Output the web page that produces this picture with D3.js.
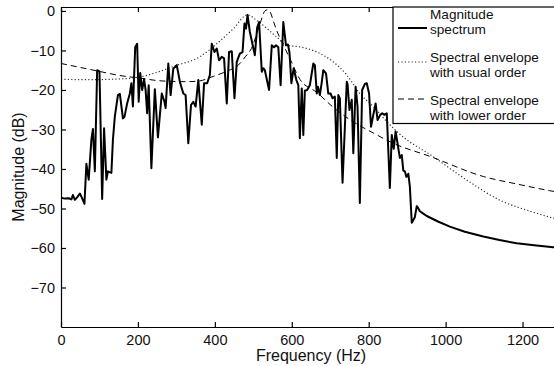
<!DOCTYPE html>
<html>
<head>
<meta charset="utf-8">
<script src="https://cdn.jsdelivr.net/npm/d3@7"></script>
<style>
    body { margin: 0; background: #fff; }
    svg { display: block; font-family: 'Liberation Sans', Arial, Helvetica, sans-serif; }
</style>
</head>
<body>
<svg id="chart"></svg>
<script>
// magnitude spectrum (Hz, dB)
const spectrumFreq = [0, 10, 20, 27, 31, 36, 42, 49, 54, 61, 66, 72, 79, 83, 88, 94, 100, 107, 112, 118,
    122, 131, 135, 140, 148, 153, 161, 165, 172, 179, 183, 187, 193, 198, 202, 206, 211, 216, 220, 224,
    228, 235, 244, 252, 262, 269, 272, 279, 285, 292, 301, 309, 318, 324, 331, 338, 344, 350, 357, 366,
    372, 380, 387, 392, 399, 405, 411, 418, 424, 431, 437, 444, 451, 457, 465, 472, 477, 481, 485, 491,
    504, 510, 515, 522, 526, 530, 541, 548, 554, 559, 565, 571, 578, 585, 590, 594, 599, 605, 612, 617,
    621, 626, 630, 634, 640, 647, 656, 660, 665, 668, 673, 678, 682, 689, 695, 701, 706, 712, 717, 721,
    725, 732, 743, 745, 750, 756, 760, 766, 771, 777, 783, 790, 795, 801, 806, 812, 818, 823, 830, 835,
    841, 847, 851, 855, 860, 865, 870, 875, 881, 886, 890, 894, 898, 903, 907, 912, 920, 925, 927, 933,
    942, 951, 980, 1011, 1050, 1098, 1140, 1185, 1230, 1280, 1300];
const spectrumDb = [-47.3, -47.5, -47.4, -47.7, -46.6, -47.8, -47.2, -46.2, -47.2, -48.8, -38.7, -42.7, -32.6, -29.9, -40.6, -15, -15.3, -47.6, -29.7, -42.7,
    -40.6, -41, -32.6, -26.7, -21.3, -21, -27.2, -26.8, -23.4, -20.9, -18.3, -24.2, -9.1, -8.3, -23, -15.7, -20, -17.3, -20, -25.9,
    -18.8, -39.8, -19.8, -32, -20.9, -23, -24.6, -13.3, -21.3, -14.6, -13.7, -17.9, -20.9, -21.3, -33.5, -23.8, -23, -24.2, -17.5, -28.8,
    -18.3, -18.3, -16.2, -8.3, -10.4, -9.5, -12.5, -11.6, -12, -23.4, -10.4, -10.2, -22.1, -12.9, -10.8, -10.4, -3.2, -4.5, -1, -5.3,
    -11.2, -4.2, -2.8, -15.4, -14.5, -15, -20, -8.7, -9.2, -8.7, -9.2, -18.8, -2.8, -8.7, -8.5, -10.5, -18.3, -14.5, -17.5, -18.8,
    -32.2, -19.6, -31.4, -20.2, -20, -18.8, -13.3, -13.7, -20.9, -19.2, -21.3, -18, -15, -15.8, -20.9, -20.9, -22.1, -21.7, -37.2, -21.3,
    -22.1, -43.5, -17.9, -18.5, -25.1, -22.5, -36, -19.2, -24.2, -48.6, -20, -18.5, -18.3, -20.9, -29.3, -26.3, -23.4, -27.6, -26.3, -25.9,
    -26.3, -25.9, -35.3, -44.8, -31.4, -34.9, -30.5, -33.5, -37.2, -36.5, -40.4, -40.6, -42, -41.2, -44.4, -53.6, -52.2, -49.4, -49.6, -50.7,
    -51.3, -51.9, -53.3, -54.6, -55.9, -57.1, -58, -58.8, -59.3, -59.8, -60];

// spectral envelope, usual order
const usualFreq = [0, 65, 130, 200, 250, 300, 361, 405, 448, 485, 509, 561, 587, 621, 665, 708, 743, 777, 812, 847, 881, 968, 1055, 1141, 1220, 1300];
const usualDb = [-17.3, -17.4, -17.3, -16.8, -15.5, -13.8, -11.6, -8.3, -4.5, -1, -2.4, -6.6, -8.7, -9.1, -10.4, -12.9, -16.2, -20.9, -24.2, -28, -31.2, -36.9, -42.8, -47.9, -50.7, -53];

// spectral envelope, lower order
const lowerFreq = [0, 50, 100, 150, 205, 260, 331, 361, 392, 430, 461, 480, 495, 510, 520, 530, 537, 545, 552, 561, 574, 595, 621, 665, 708, 751, 812, 864, 959, 1098, 1185, 1271, 1300];
const lowerDb = [-13.3, -14.3, -15.3, -16.3, -17, -17.7, -17.9, -17.7, -16.7, -15.3, -13.7, -11.5, -9.5, -5.5, -2.5, 0, 0.3, -0.5, -2.5, -5, -7.8, -12, -17.3, -20.6, -24.4, -27.5, -30.9, -33.5, -36.8, -41.9, -43.8, -45.5, -46];

const xTicks = [0, 200, 400, 600, 800, 1000, 1200];
const yTicks = [0, -10, -20, -30, -40, -50, -60, -70];

const legendLabels = [
    ['Magnitude', 'spectrum'],
    ['Spectral envelope', 'with usual order'],
    ['Spectral envelope', 'with lower order']
];

const width = 554;
const height = 366;
const plot = { left: 61, right: 561, top: 7, bottom: 327 };

const svg = d3.select('#chart')
    .attr('width', width)
    .attr('height', height);

const x = d3.scaleLinear().domain([0, 1300]).range([plot.left, plot.right]);
const y = d3.scaleLinear().domain([-80, 1]).range([plot.bottom, plot.top]);

svg.append('defs')
    .append('clipPath')
        .attr('id', 'plot-clip')
    .append('rect')
        .attr('x', plot.left)
        .attr('y', plot.top)
        .attr('width', plot.right - plot.left)
        .attr('height', plot.bottom - plot.top);

const toPoints = (fs, vs) => fs.map((f, i) => [f, vs[i]]);

const lines = svg.append('g').attr('clip-path', 'url(#plot-clip)');

const smooth = d3.line().x(d => x(d[0])).y(d => y(d[1])).curve(d3.curveMonotoneX);
const jagged = d3.line().x(d => x(d[0])).y(d => y(d[1]));

const dotted = '1.2,2.2';
const dashed = '6,4';

lines.append('path')
    .attr('d', smooth(toPoints(usualFreq, usualDb)))
    .attr('fill', 'none')
    .attr('stroke', '#333')
    .attr('stroke-width', 1.2)
    .attr('stroke-dasharray', dotted);

lines.append('path')
    .attr('d', smooth(toPoints(lowerFreq, lowerDb)))
    .attr('fill', 'none')
    .attr('stroke', '#000')
    .attr('stroke-width', 1)
    .attr('stroke-dasharray', dashed);

lines.append('path')
    .attr('d', jagged(toPoints(spectrumFreq, spectrumDb)))
    .attr('fill', 'none')
    .attr('stroke', '#000')
    .attr('stroke-width', 2)
    .attr('stroke-linejoin', 'round');

// axes, MATLAB style: ticks inside, box on
const fmt = d3.format('d');

const xAxis = d3.axisBottom(x).tickValues(xTicks).tickSizeInner(-5).tickSizeOuter(0).tickPadding(7.5).tickFormat(fmt);
const xAxisTop = d3.axisTop(x).tickValues(xTicks).tickSizeInner(-5).tickSizeOuter(0).tickFormat('');
const yAxis = d3.axisLeft(y).tickValues(yTicks).tickSizeInner(-5).tickSizeOuter(0).tickPadding(6).tickFormat(fmt);

svg.append('g')
    .attr('class', 'x axis')
    .attr('transform', `translate(0, ${plot.bottom})`)
    .call(xAxis);

svg.append('g')
    .attr('class', 'x axis top')
    .attr('transform', `translate(0, ${plot.top})`)
    .call(xAxisTop);

svg.append('g')
    .attr('class', 'y axis')
    .attr('transform', `translate(${plot.left}, 0)`)
    .call(yAxis);

svg.selectAll('.axis path, .axis line')
    .attr('stroke', '#000')
    .attr('stroke-width', 1.2);

svg.selectAll('.axis text')
    .attr('fill', '#111')
    .style('font-size', '14.5px')
    .style('font-family', 'Liberation Sans, Arial, Helvetica, sans-serif');

svg.append('text')
    .attr('x', (plot.left + plot.right) / 2)
    .attr('y', 360.5)
    .attr('text-anchor', 'middle')
    .attr('fill', '#111')
    .style('font-size', '16px')
    .text('Frequency (Hz)');

svg.append('text')
    .attr('transform', `translate(23.5, ${(plot.top + plot.bottom) / 2}) rotate(-90)`)
    .attr('text-anchor', 'middle')
    .attr('fill', '#111')
    .style('font-size', '16px')
    .text('Magnitude (dB)');

// legend
const legend = svg.append('g').attr('class', 'legend');

legend.append('rect')
    .attr('x', 393)
    .attr('y', plot.top)
    .attr('width', 167)
    .attr('height', 116.5)
    .attr('fill', '#fff')
    .attr('stroke', '#000')
    .attr('stroke-width', 1.2);

const sampleStyles = [
    { width: 2, dash: null, color: '#000', y: 28 },
    { width: 1.2, dash: dotted, color: '#333', y: 62 },
    { width: 1, dash: dashed, color: '#000', y: 99 }
];

const entry = legend.selectAll('.entry')
    .data(legendLabels)
    .enter()
    .append('g')
        .attr('class', 'entry');

entry.append('line')
    .attr('x1', 398)
    .attr('x2', 427)
    .attr('y1', (d, i) => sampleStyles[i].y)
    .attr('y2', (d, i) => sampleStyles[i].y)
    .attr('stroke', (d, i) => sampleStyles[i].color)
    .attr('stroke-width', (d, i) => sampleStyles[i].width)
    .attr('stroke-dasharray', (d, i) => sampleStyles[i].dash);

const label = entry.append('text')
    .attr('y', (d, i) => 19 + i * 43)
    .attr('fill', '#111')
    .style('font-size', '13.6px');

label.append('tspan')
    .attr('x', 430)
    .text(d => d[0]);

label.append('tspan')
    .attr('x', 430)
    .attr('dy', 15.2)
    .text(d => d[1]);
</script>
</body>
</html>
